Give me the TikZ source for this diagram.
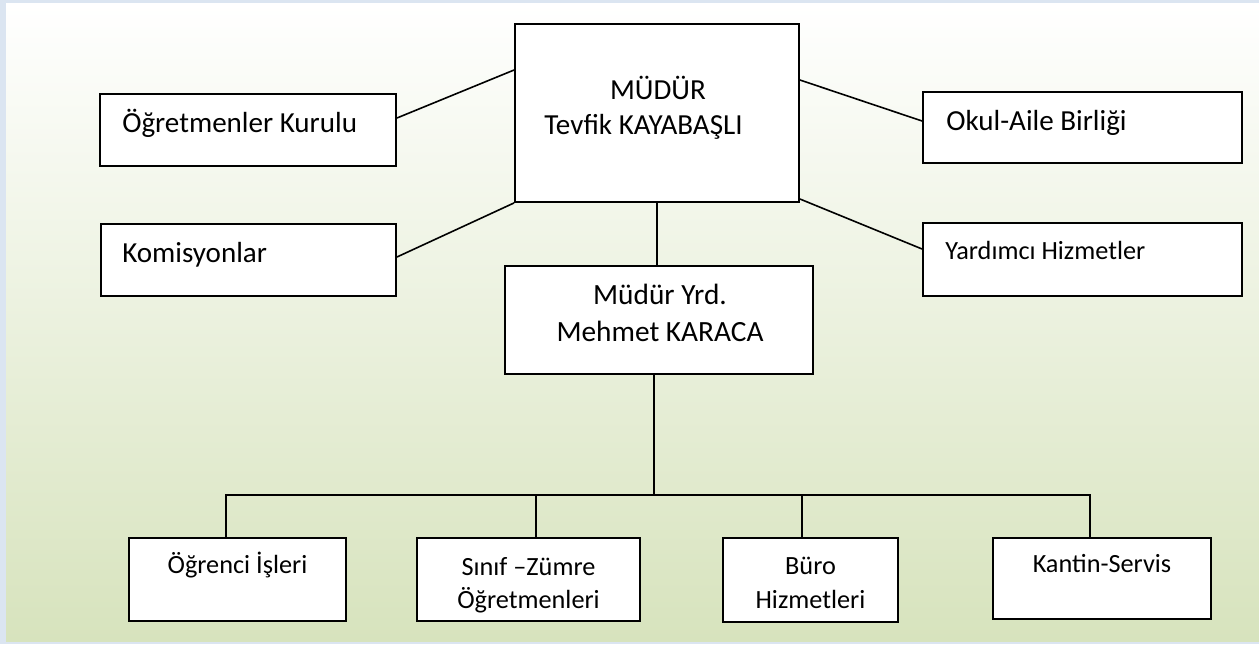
\documentclass[tikz,border=0pt]{standalone}
\usepackage{fontspec}
\setmainfont{Carlito}
\usetikzlibrary{calc}
\definecolor{bggreen}{RGB}{215,227,189}
\definecolor{frameblue}{RGB}{219,229,241}
\begin{document}
\begin{tikzpicture}[x=0.75pt,y=-0.75pt,
  box/.style={draw=black,line width=1.4pt,fill=white,inner sep=0pt},
  wire/.style={draw=black,line width=1.2pt},
  lbl/.style={text=black,inner sep=0pt,font=\fontsize{21.8}{27}\selectfont},
  smalllbl/.style={text=black,inner sep=0pt,font=\fontsize{19.7}{24}\selectfont}]

\useasboundingbox (0,0) rectangle (1259,644);
\fill[frameblue] (0,0) rectangle (1259,644);
\shade[top color=white,bottom color=bggreen] (6,3) rectangle (1259,641);

% boxes:
\node[box,minimum width=213pt,minimum height=133.5pt] (mudur) at (657,113) {};
\node[box,minimum width=222pt,minimum height=54pt] (kurul) at (248,130) {};
\node[box,minimum width=239.25pt,minimum height=53.25pt] (okul) at (1082.5,127.5) {};
\node[box,minimum width=221.25pt,minimum height=54pt] (komis) at (248.5,260) {};
\node[box,minimum width=239.25pt,minimum height=54.75pt] (yardimci) at (1082.5,259.5) {};
\node[box,minimum width=231pt,minimum height=81pt] (yrd) at (659,320) {};
\node[box,minimum width=162.75pt,minimum height=62.25pt] (ogrenci) at (237.5,579.5) {};
\node[box,minimum width=167.25pt,minimum height=62.25pt] (sinif) at (528.5,579.5) {};
\node[box,minimum width=131.25pt,minimum height=63pt] (buro) at (810.5,580) {};
\node[box,minimum width=163.5pt,minimum height=60.75pt] (kantin) at (1102,578.5) {};

% connectors:
\draw[wire] ($(kurul.east)+(0,-12)$) -- ($(mudur.west)+(0,-43)$);
\draw[wire] ($(komis.east)+(0,-3)$) -- (mudur.south west);
\draw[wire] ($(mudur.east)+(0,-33)$) -- ($(okul.west)+(0,-6.5)$);
\draw[wire] ($(mudur.east)+(0,86)$) -- ($(yardimci.west)+(0,-10.5)$);
\draw[wire] (mudur.south) -- (mudur.south |- yrd.north);
\coordinate (bus) at (654,495);
\coordinate (d1) at ($(ogrenci.north)+(-11.5,0)$);
\coordinate (d2) at ($(sinif.north)+(7.5,0)$);
\coordinate (d3) at ($(buro.north)+(-8.5,0)$);
\coordinate (d4) at ($(kantin.north)+(-12,0)$);
\draw[wire] (yrd.south -| bus) -- (bus);
\draw[wire] (d1) -- (d1 |- bus) -- (d4 |- bus) -- (d4);
\draw[wire] (d2) -- (d2 |- bus);
\draw[wire] (d3) -- (d3 |- bus);

% texts:
\path (658,99) node[lbl,anchor=base] (tmudur) {MÜDÜR};
\path (643.5,134) node[lbl,anchor=base] (tadi) {Tevfik KAYABAŞLI};
\path (122,132) node[lbl,anchor=base west] (tkurul) {Öğretmenler Kurulu};
\path (946,130) node[lbl,anchor=base west] (tokul) {Okul-Aile Birliği};
\path (122,262) node[lbl,anchor=base west] (tkomis) {Komisyonlar};
\path (945,259) node[smalllbl,anchor=base west] (tyard) {Yardımcı Hizmetler};
\path (660,304) node[lbl,anchor=base,font=\fontsize{22}{27}\selectfont] (tyrd) {Müdür Yrd.};
\path (660,341) node[lbl,anchor=base,font=\fontsize{22}{27}\selectfont] (tyrdadi) {Mehmet KARACA};
\path (237.5,573) node[smalllbl,anchor=base] (togr) {Öğrenci İşleri};
\path (528.5,575) node[smalllbl,anchor=base] (tsinif) {Sınıf –Zümre};
\path (528.5,608) node[smalllbl,anchor=base] (tsinif2) {Öğretmenleri};
\path (810.5,574) node[smalllbl,anchor=base] (tburo) {Büro};
\path (810.5,608) node[smalllbl,anchor=base] (tburo2) {Hizmetleri};
\path (1102,572) node[smalllbl,anchor=base] (tkantin) {Kantin-Servis};

\end{tikzpicture}
\end{document}
